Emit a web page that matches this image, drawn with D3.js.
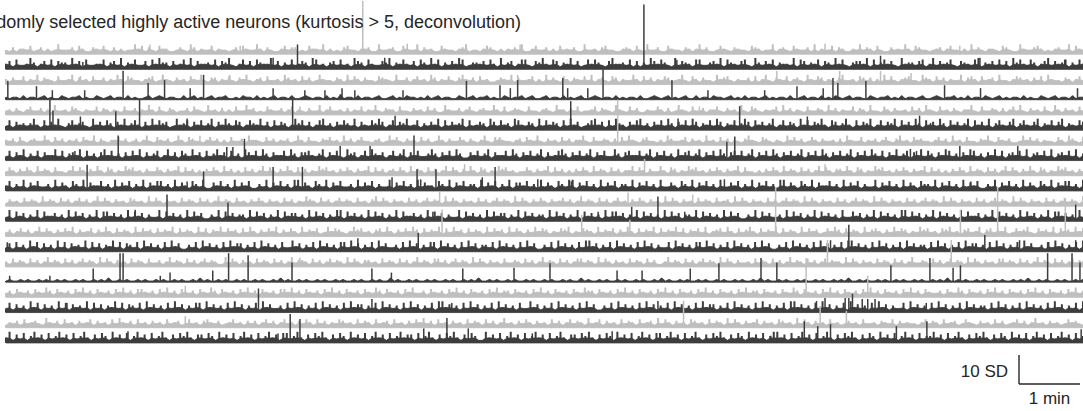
<!DOCTYPE html>
<html><head><meta charset="utf-8">
<script src="https://cdn.jsdelivr.net/npm/d3@7"></script>
<style>body{margin:0;background:#fff}svg{display:block}</style>
</head><body>
<svg id="chart" width="1083" height="411"></svg>
<script>
// ---------------- DATA ----------------
const titleText = "Randomly selected highly active neurons (kurtosis > 5, deconvolution)";
const durationMin = 17.66;          // recording length shown (minutes)
const scaleBarSD = 10;              // vertical scale bar (SD)
const scaleBarMin = 1;              // horizontal scale bar (minutes)
const noiseUnitSD = 0.5;            // one digit of a noise string = 0.5 SD
const noiseFloorSD = -0.4;          // lower edge of the baseline noise band (SD)
const traceKinds = ["gray","dark","gray","dark","gray","dark","gray","dark","gray","dark",
                    "gray","dark","gray","dark","gray","dark","gray","dark","gray","dark"];

// upper envelope of the baseline activity of each neuron (digit strings, evenly spaced over the recording)
const noise0  = "2141332512413126222415311432521413122635142153311242164132251322124153226314211352441215332613121452213341162234115322614231153221346122135421313242611352241315232411622314522113431521622411532214313624112532143221543122613421532241613225143113262431521142326315422123413522131624213321542116322453121342261532";
const noise1  = "3516223741352615442735162233614527143622516374415236271533426154721362516433725142623541762314526231754163225471436325164273614253761244352631724513662154732651437251263642157334261514275364217254316622453716432562174253614332716524361542736214553716246352173442561372534621543267143526251746326413572534614263";
const noise2  = "3142251326143215223614231522413263154221345126321423153262144132521436213415223164231524126322143162531422154321622413523164132521463241523112432614223513162421531432526134215413226315241325412362153142216345213224151362143251342163254132146223154241316252134522164315241322614531523416221354231425163221431352";
const noise3  = "1011020110120100210112010021012011020100120121011002012010120112001021102010120110200121011020103011020110120012010211010201201100210120112010021011201200120110201012001210110201011020012101201012002011021101201020110120101102001201102010210120110021011201020110120012101120102011021012010110201002101201102011";
const noise4  = "2314213522413162231542132251431321522413263152143122415321623141315226341215322413513214226135223141325132621433152214231524116322413521342263151243215221342163314251223514321632152411322531412632152241335214231621542132351624132152243162413225143162215314223152416321523142133621522431413526214231521631423152";
const noise5  = "2615342473162537214634521735264153724631527364512734615362471537426513643725162541374625136724153642715326475136254723614253716253471623541752634176325417263541627351246735162743153672415362741536275143627514362475163524713625417362547316524731625471362547163527416352741635247163527146325714632571436257143265";
const noise6  = "3241521342263152413241532614213352412413621532412631542213524131522416332152413241263152214352316241352213412635214231524126314225314213621543221341532621423152413362152243141526321452213164223514231623152413214632154213216352412531422314163225132413521462315342213524162315221436215324112635241322153164215";
const noise7  = "2615371426153372614537162415736241526371524613725164273516247351624175362741533627415563247153621745136274351362471536224741536274115362471533627415362471523674153624715362274156336247153624173562471536274156362471536274153624715362741536247153627426153724615372641537624153762415372614536271453627145362714";
const noise8  = "2531425316243152213625314263154132645231422531423615241314253162413152413625314263151413264523142531423615241342531624315241362531426315413264523122531423615241314253162431524133625314226315413264523142531423615221314253162431524136253144263154132645231425314236152413142531624315241362531426315413264523142";
const noise9  = "3614271536224172531642715336241725361427153662417253164271153624172536114271536241772531642715362241725361422715362417253316427153624417253614271553624172531642771536241725361442715362417225316427153624172253614271536241772531642715336241725361422715362417253164427153624172536114271536241725316427153662417";
const noise10 = "1423152431624315241352413625314231542316253142315243152413624315231425314231524132643152413524315231462531423152413524316253142315241352431625314253142352413624315241352314253142316253142315243152341625314231524135243162531423152413524316253142315241352431625314231524135243162531423152413524316";
const noise11 = "2716351427163352417263514271663524172635142271635241726351142716352441726351427163552417263514277163524172635142716335241726351422716352417263551427163524417263514271635241726635142716352417263514427163524172635114271635224172635142716352417226351427163524177263514271635241726335142716352417263514271663524172";
const noise12 = "2413524136253142536142351426315243162534152436152431625143625341526314253614253162435126354213645231452631425364152436152634152431625341625314263541325461325431624351426315243615243625143526134526315246315243615243162534125364152431624531426354132645231546231452361452436125346215342615342635";
const noise13 = "2516241736152417261534271625143726154261735241627351142617352416273551426173524162273514261735241662735142617352241627351426617352416273514426173524162735114261735241627735142617352416273514226173524166273514261735241627351142617352416273514261773524162735142617352441627351426173552416273514261735224162735142617";
const noise14 = "3152431524136243152413524316253142315243152241362431524135243116253142315243152413624431524135243162531442315243152413624315524135243162531423152243152413624315241355243162531423152431524113624315241352431625314223152431524136243152413524331625314231524315241362243152413524316253142315524315241362431524135243";
const noise15 = "0100101001010010100101001010200101001010010100101001020100101001010010100102010010100101001010010100101002010010100101001010010102001010010100101001010010100201001010010100101001020100101001010010100101001020100101001010010100101020010100101001010010100101020010100101001010010102001010010100101";
const noise16 = "2415324153264153241536241532415362415532415362415324153264153241536241532415536241532415362415324153264153241536224153241536241532415362441532415362415324153264415324153624153241536241532415362415324153624415324153264153241536241532415362415324153624153224153264153241536241532415362415324153624";
const noise17 = "2615241736152417261534271625143726154261735241627351426617352416273514261735224162735142617352416273551426173524162735142617735241627351426173524162273514261735241627351142617352416273514261735241627355142617352416273514261773524162735142617352416273514226173524162735142617352441627351426173524162735142617";
const noise18 = "1324152342163241523142351423152632415231423152341252314532412352314241352413523142531524132542315243152341523142536241523142315243152413623142531423152413524316235142315243152341625314231542315243162531423514231542316253142315231242315223143251423221352431523412532142315241235241362314231253421";
const noise19 = "3715261473516247351624731526417352614735162473152647315526417352614735162473516624731526473152641735261473516247355162473152647315264117352614735162473516247315526473152641735261473516624735162473152647315264173526147735162473516247315264731526417352614735162447351624731526473152641735261473516247351624";

// large transients of each neuron: [time (min), amplitude (SD)]
const spikes0  = [[2.36,2.9],[3.84,2.5],[5.85,17.9],[6.58,3.2],[8.43,2.9],[13.43,3.2],[15.64,2.5]];
const spikes1  = [[1.26,2.1],[4.38,3.6],[4.78,8.2],[6.21,3.6],[10.46,22.0],[11.00,2.9],[14.34,4.3],[15.97,3.6],[17.36,2.9]];
const spikes2  = [[1.22,2.5],[3.67,2.9],[8.39,2.9],[12.64,4.3],[13.67,4.3],[14.34,4.3],[14.84,3.6]];
const spikes3  = [[0.03,6.1],[0.50,4.3],[0.76,2.9],[1.29,2.9],[1.92,9.6],[2.33,5.4],[2.60,6.4],[3.02,3.6],[3.24,8.2],[4.38,3.6],[4.90,2.9],[5.23,2.9],[5.51,3.6],[5.72,2.9],[6.51,2.9],[7.55,6.1],[8.10,4.6],[8.27,3.6],[8.39,6.4],[9.13,7.1],[9.21,3.6],[9.54,3.6],[9.79,10.0],[10.92,6.4],[11.51,2.9],[12.44,2.9],[12.97,4.3],[13.40,3.6],[13.56,7.1],[13.64,5.4],[14.10,6.1],[15.39,4.6],[15.98,3.6],[17.57,3.6]];
const spikes4  = [[4.82,2.5],[11.37,2.5]];
const spikes5  = [[0.72,10.0],[0.77,6.4],[1.22,4.3],[1.80,6.1],[2.19,10.0],[2.97,3.6],[4.70,10.0],[6.38,4.6],[9.26,9.6],[11.02,3.6],[12.03,7.9],[13.14,4.3],[14.98,4.6],[15.16,2.1]];
const spikes6  = [[3.18,2.9],[8.10,2.5],[10.03,15.4]];
const spikes7  = [[1.13,2.9],[1.84,8.2],[3.62,4.3],[3.72,4.3],[3.91,7.1],[5.48,4.6],[5.97,4.6],[6.69,8.2],[11.82,6.1],[11.95,7.9],[14.83,3.6],[14.93,2.9],[15.64,4.6],[16.59,4.6]];
const spikes8  = [[7.52,3.6],[10.47,5.4],[13.43,3.6]];
const spikes9  = [[1.33,8.6],[2.97,2.9],[3.24,6.4],[4.38,7.9],[4.86,7.9],[6.33,4.3],[6.74,7.1],[6.80,3.6],[7.05,7.1],[7.81,4.3],[8.02,7.9],[8.72,3.6],[9.27,2.9],[11.78,3.6],[15.82,2.9]];
const spikes10 = [[7.11,4.6],[10.20,4.3],[11.26,3.6]];
const spikes11 = [[2.12,3.6],[2.64,8.9],[3.64,6.1],[7.00,2.9],[9.71,2.9],[10.26,4.6],[10.69,8.2],[11.13,2.9],[17.54,5.4]];
const spikes12 = [[7.15,8.9],[9.44,7.1],[10.23,5.4],[12.62,16.8],[15.65,8.9],[16.26,16.8],[17.37,12.5]];
const spikes13 = [[0.02,2.9],[5.15,2.9],[5.77,4.3],[6.76,6.1],[13.52,3.6],[13.82,8.9],[16.05,5.4],[16.62,3.6],[17.08,2.9],[17.54,3.6]];
const spikes14 = [[4.82,2.9],[13.47,8.9],[15.50,8.9]];
const spikes15 = [[0.06,1.8],[0.72,1.8],[1.43,4.3],[1.87,9.6],[1.92,9.6],[2.53,1.8],[2.69,2.9],[3.39,3.6],[3.65,9.6],[3.97,8.9],[4.69,6.4],[6.00,4.3],[6.32,2.9],[7.49,4.3],[8.33,4.6],[8.92,6.1],[10.02,3.6],[10.43,3.6],[11.22,4.3],[11.69,6.1],[12.38,7.9],[12.64,6.4],[14.51,5.4],[15.15,7.9],[15.53,4.6],[15.65,5.4],[17.08,9.6],[17.48,9.6],[17.61,6.4]];
const spikes16 = [[2.94,3.6],[13.12,13.2],[14.13,7.1]];
const spikes17 = [[1.00,2.9],[4.14,7.9],[6.00,4.3],[7.31,2.9],[10.69,3.6],[13.29,3.6],[13.43,4.6],[13.76,4.6],[13.82,4.6],[13.88,6.1],[14.04,4.3],[14.13,4.3],[14.25,4.3],[15.09,2.9]];
const spikes18 = [[2.94,3.6],[11.11,8.9],[13.35,7.1],[13.78,5.4]];
const spikes19 = [[2.00,3.6],[4.46,2.9],[4.66,9.6],[4.82,7.9],[6.85,4.6],[7.23,8.2],[7.58,4.6],[8.63,2.9],[9.94,3.6],[12.54,2.1],[13.09,7.1],[13.31,5.4],[13.52,6.1],[14.60,5.4],[15.10,7.1],[17.63,4.3]];

const noiseList = [noise0,noise1,noise2,noise3,noise4,noise5,noise6,noise7,noise8,noise9,
                   noise10,noise11,noise12,noise13,noise14,noise15,noise16,noise17,noise18,noise19];
const spikeList = [spikes0,spikes1,spikes2,spikes3,spikes4,spikes5,spikes6,spikes7,spikes8,spikes9,
                   spikes10,spikes11,spikes12,spikes13,spikes14,spikes15,spikes16,spikes17,spikes18,spikes19];

// ---------------- DRAW ----------------
const svg = d3.select("#chart");
const colorOf = d3.scaleOrdinal().domain(["gray","dark"]).range(["#bfbfbf","#3d3d3d"]);
const x = d3.scaleLinear().domain([0, durationMin]).range([6, 1083]);
const offset = d3.scalePoint().domain(d3.range(noiseList.length)).range([53, 341.8]);
const y = d3.scaleLinear().domain([0, 10]).range([0, -29]);   // SD -> px (relative to trace baseline)
const solidTopSD = 1.3;             // the band is solid up to this level; above it, single strokes
const band = d3.area().curve(d3.curveLinear).x(d => x(d.t)).y0(y(noiseFloorSD)).y1(d => y(Math.min(d.v, solidTopSD)));

const traces = svg.append("g");
noiseList.forEach((str, i) => {
  const n = str.length, dt = durationMin / (n - 1);
  const pts = Array.from(str, (c, k) => ({ t: k * dt, v: (+c) * noiseUnitSD }));
  const col = colorOf(traceKinds[i]);
  const g = traces.append("g").attr("transform", `translate(0,${offset(i)})`);
  // solid lower part of the noise band
  g.append("path")
    .attr("d", band(pts))
    .attr("fill", col)
    .attr("stroke", col)
    .attr("stroke-width", 0.8);
  // ragged upper part: one vertical stroke per sample
  const comb = d3.path();
  pts.forEach(d => { comb.moveTo(x(d.t), y(noiseFloorSD)); comb.lineTo(x(d.t), y(d.v)); });
  g.append("path")
    .attr("d", comb.toString())
    .attr("fill", "none")
    .attr("stroke", col)
    .attr("stroke-width", 2.0);
  g.selectAll("line.spike").data(spikeList[i]).join("line")
    .attr("class", "spike")
    .attr("x1", d => x(d[0])).attr("x2", d => x(d[0]))
    .attr("y1", y(0)).attr("y2", d => y(d[1]))
    .attr("stroke", col)
    .attr("stroke-width", 1.5);
});

// title (partly outside the left edge, as in the figure)
svg.append("text")
  .attr("x", 521).attr("y", 28)
  .attr("text-anchor", "end")
  .attr("font-family", "Liberation Sans, Arial, sans-serif")
  .attr("font-size", 18)
  .attr("fill", "#262626")
  .text(titleText);

// scale bar
const sbX = 1019, sbY = 384;
const sbLen = x(scaleBarMin) - x(0);
const sb = svg.append("g").attr("stroke", "#262626").attr("stroke-width", 1.4).attr("fill", "none");
sb.append("line").attr("x1", sbX).attr("x2", sbX).attr("y1", sbY + y(scaleBarSD)).attr("y2", sbY);
sb.append("line").attr("x1", sbX).attr("x2", sbX + sbLen).attr("y1", sbY).attr("y2", sbY);
svg.append("text").attr("x", 1008).attr("y", 377).attr("text-anchor", "end")
  .attr("font-family", "Liberation Sans, Arial, sans-serif").attr("font-size", 17).attr("fill", "#262626")
  .text(scaleBarSD + " SD");
svg.append("text").attr("x", sbX + sbLen / 2).attr("y", 404).attr("text-anchor", "middle")
  .attr("font-family", "Liberation Sans, Arial, sans-serif").attr("font-size", 17).attr("fill", "#262626")
  .text(scaleBarMin + " min");
</script>
</body></html>
